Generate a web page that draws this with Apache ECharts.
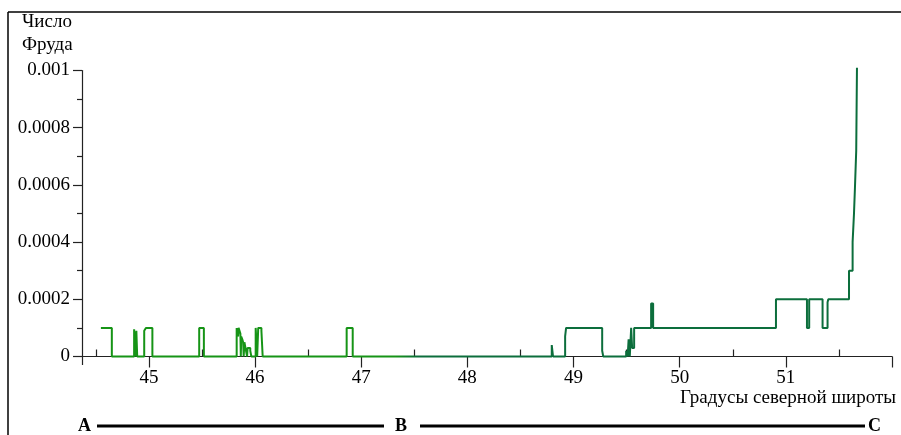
<!DOCTYPE html>
<html><head><meta charset="utf-8">
<script src="https://cdn.jsdelivr.net/npm/echarts@6/dist/echarts.min.js"></script>
<style>html,body{margin:0;padding:0;background:#fff}#c{width:901px;height:435px}</style>
</head><body><div id="c"></div>
<script>
// Latitude (degrees N) where the Froude number changes, and the new value from there on
const latitude = [44.548,44.651,44.861,44.873,44.882,44.890,44.956,44.972,45.033,45.474,45.518,
  45.827,45.840,45.845,45.862,45.866,45.870,45.880,45.888,45.893,45.900,45.905,45.920,45.925,45.930,45.945,45.955,45.965,
  46.006,46.020,46.030,46.060,46.072,
  46.863,46.920,48.795,48.807,48.921,48.930,49.270,49.280,
  49.496,49.510,49.519,49.530,49.543,49.552,49.571,49.731,49.750,
  50.907,51.199,51.220,51.346,51.393,51.400,51.595,51.629,51.642,51.651,51.663,51.670];
const froude = [0.0001,0,0.000095,0,0.00009,0,0.00009,0.0001,0,0.0001,0,
  0.0001,0.00007,0.0001,0.00008,0,0.00007,0.00006,0.00005,0,0.00005,0.00004,0.00004,0,0.00003,0.00003,0.00002,0,
  0.0001,0,0.0001,0.00009,0,
  0.0001,0,0.00004,0,0.00007,0.0001,0.00002,0,
  0.00002,0,0.00006,0,0.0001,0.00003,0.0001,0.000185,0.0001,
  0.0002,0.0001,0.0002,0.0001,0.00019,0.0002,0.0003,0.0004,0.0005,0.00059,0.00072,0.00101];
const xMajorTicks = [45,46,47,48,49,50,51,52];
const xMinorTicks = [44.5,45.5,46.5,47.5,48.5,49.5,50.5,51.5];
const xTickLabels = ['45','46','47','48','49','50','51'];
const yTickLabels = {0:'0',0.0002:'0.0002',0.0004:'0.0004',0.0006:'0.0006',0.0008:'0.0008',0.001:'0.001'};
const yTitle = ['Число','Фруда'];
const xTitle = 'Градусы северной широты';
const profilePoints = ['A','B','C'];

const font = '"Liberation Serif","Times New Roman",serif';
const axisColor = '#222';
const chart = echarts.init(document.getElementById('c'), null, {renderer:'canvas'});
const data = latitude.map((x,i)=>[x, froude[i]]);
chart.setOption({
  animation:false,
  grid:{left:82, right:9, top:70.5, bottom:78.5},
  xAxis:[{
    type:'value', min:44.37, max:52, splitLine:{show:false},
    axisLine:{onZero:false, lineStyle:{color:axisColor, width:1.2}},
    axisTick:{customValues:xMajorTicks, length:11, lineStyle:{color:axisColor, width:1.2}},
    axisLabel:{customValues:xTickLabels.map(Number), formatter:v=>xTickLabels[xTickLabels.indexOf(String(Math.round(v)))] || '', color:'#000', fontFamily:font, fontSize:19, margin:12}
  },{
    type:'value', min:44.37, max:52, splitLine:{show:false},
    axisLine:{show:false},
    axisTick:{customValues:xMinorTicks, length:7, lineStyle:{color:axisColor, width:1.2}},
    axisLabel:{show:false}
  }],
  yAxis:{
    type:'value', min:0, max:0.001, interval:0.0002, splitLine:{show:false},
    axisLine:{show:true, lineStyle:{color:axisColor, width:1.2}},
    axisTick:{show:true, length:9, lineStyle:{color:axisColor, width:1.2}},
    minorTick:{show:true, splitNumber:2, length:5, lineStyle:{color:axisColor, width:1.2}},
    axisLabel:{formatter:v=>{const k=Object.keys(yTickLabels).find(t=>Math.abs(+t-v)<1e-9);return k!==undefined?yTickLabels[k]:'';}, color:'#000', fontFamily:font, fontSize:19, margin:12}
  },
  series:[{
    type:'line', step:'end', data:data, showSymbol:false, clip:false,
    lineStyle:{width:2, color:new echarts.graphic.LinearGradient(0,0,1,0,[
      {offset:0,color:'#169416'},{offset:0.39,color:'#169416'},{offset:0.42,color:'#0c6e3c'},{offset:1,color:'#0c6e3c'}])}
  }],
  graphic:[
    {type:'line', shape:{x1:8,y1:12,x2:901,y2:12}, style:{stroke:'#000', lineWidth:1.5}},
    {type:'line', shape:{x1:8,y1:12,x2:8,y2:435}, style:{stroke:'#000', lineWidth:1.5}},
    {type:'line', shape:{x1:82.5,y1:356,x2:82.5,y2:365}, style:{stroke:axisColor, lineWidth:1.2}},
    {type:'text', left:22, top:13, style:{text:yTitle[0], font:'19px '+font, fill:'#000'}},
    {type:'text', left:22, top:36, style:{text:yTitle[1], font:'19px '+font, fill:'#000'}},
    {type:'text', right:5, top:389, style:{text:xTitle, font:'19px '+font, fill:'#000'}},
    {type:'text', left:78, top:417, style:{text:profilePoints[0], font:'bold 18px '+font, fill:'#000'}},
    {type:'text', left:395, top:417, style:{text:profilePoints[1], font:'bold 18px '+font, fill:'#000'}},
    {type:'text', left:868, top:417, style:{text:profilePoints[2], font:'bold 18px '+font, fill:'#000'}},
    {type:'line', shape:{x1:97,y1:426,x2:384,y2:426}, style:{stroke:'#000', lineWidth:3}},
    {type:'line', shape:{x1:420,y1:426,x2:865,y2:426}, style:{stroke:'#000', lineWidth:3}}
  ]
});
</script></body></html>
